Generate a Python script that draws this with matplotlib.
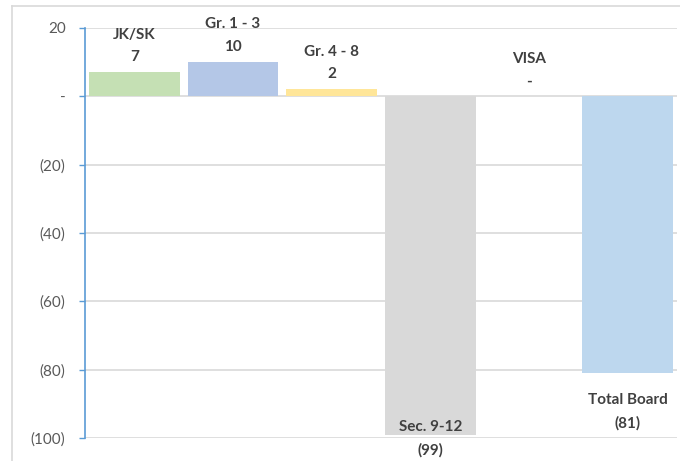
import matplotlib.pyplot as plt
from matplotlib.lines import Line2D

# chart data
categories = ["JK/SK", "Gr. 1 - 3", "Gr. 4 - 8", "Sec. 9-12", "VISA", "Total Board"]
values = [7, 10, 2, -99, 0, -81]
colors = ["#c5e0b4", "#b4c7e7", "#ffe699", "#d9d9d9", "#ffffff", "#bdd7ee"]
yticks = [20, 0, -20, -40, -60, -80, -100]
ytick_labels = ["20", "-", "(20)", "(40)", "(60)", "(80)", "(100)"]


def fmt(v):
    if v == 0:
        return "-"
    return f"({abs(v)})" if v < 0 else str(v)


plt.rcParams['font.family'] = ['Lato', 'DejaVu Sans']

fig = plt.figure(figsize=(6.8, 4.61), dpi=100)
ax = fig.add_axes([85 / 680, 1 - 438 / 461, (677 - 85) / 680, (438 - 28) / 461])

x = list(range(len(categories)))
ax.bar(x, values, width=0.92, color=colors, zorder=2)
ax.set_xlim(-0.5, len(categories) - 0.5)
ax.set_ylim(-100, 20)

ax.set_yticks(yticks)
ax.set_yticklabels(ytick_labels, fontsize=11, color="#595959")
ax.tick_params(axis='y', direction='out', length=4, color="#5b9bd5", width=1, pad=10)
ax.set_xticks([])
ax.grid(axis='y', color="#d9d9d9", linewidth=1.2, zorder=0)
for s in ["top", "right", "bottom"]:
    ax.spines[s].set_visible(False)
ax.spines["left"].set_color("#5b9bd5")
ax.spines["left"].set_linewidth(1.2)

# data labels: category name + value
for i, (cat, v) in enumerate(zip(categories, values)):
    txt = f"{cat}\n{fmt(v)}"
    if v >= 0:
        off, va = 8, 'bottom'
    elif v < -95:
        off, va = -4, 'center'
    else:
        off, va = -20, 'top'
    ax.annotate(txt, (i, v), xytext=(0, off), textcoords='offset pixels',
                ha='center', va=va, fontsize=11, fontweight='bold',
                color="#404040", linespacing=1.8, zorder=3)

# chart area border (left and top visible)
fig.add_artist(Line2D([12 / 680, 12 / 680], [0, 1 - 6 / 461],
                      transform=fig.transFigure, color="#d9d9d9", lw=1.2))
fig.add_artist(Line2D([12 / 680, 1], [1 - 6 / 461, 1 - 6 / 461],
                      transform=fig.transFigure, color="#d9d9d9", lw=1.2))

fig.savefig("out.png", dpi=100)
